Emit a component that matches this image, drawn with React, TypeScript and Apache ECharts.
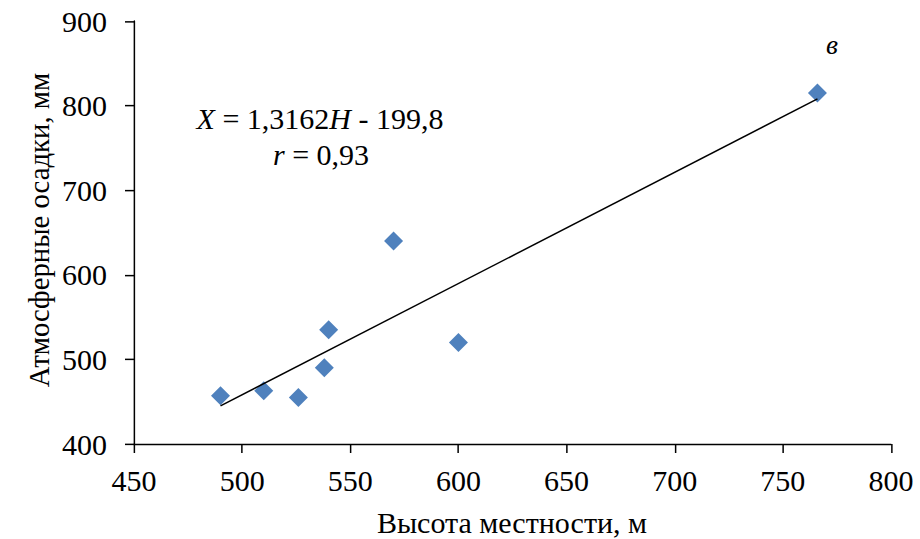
import React, { useEffect, useRef } from "react";
import * as echarts from "echarts";

const heights: number[] = [490, 510, 526, 538, 540, 570, 600, 766];
const precipitation: number[] = [457, 463, 455, 490, 535, 640, 520, 815];
const trendStart: number[] = [490, 445];
const trendEnd: number[] = [766, 808];
const xTicks = { min: 450, max: 800, interval: 50 };
const yTicks = { min: 400, max: 900, interval: 100 };
const xTitle = "Высота местности, м";
const yTitle = "Атмосферные осадки, мм";
const panelLetter = "в";

const FONT = "Liberation Serif";
// The chart is laid out at 1/S size and scaled up by S with CSS,
// so that serif glyphs are kept at the larger on-screen sizes.
const S = 1.25;
const W = 920 / S;
const H = 539 / S;
const u = (v: number) => v / S;

export default function App() {
  const ref = useRef<HTMLDivElement>(null);
  useEffect(() => {
    if (!ref.current) return;
    const chart = echarts.init(ref.current, undefined, { renderer: "svg", width: W, height: H });
    const points = heights.map((h, i) => [h, precipitation[i]]);
    const txt = (size: number, italic = false) => ({
      fontFamily: FONT,
      fontSize: size,
      fontStyle: italic ? "italic" : "normal",
      fill: "#000",
    });
    const axisLine = { show: true, onZero: false, lineStyle: { color: "#000", width: u(1.5) } };
    const axisTick = { show: true, inside: false, length: u(9), lineStyle: { color: "#000", width: u(1.5) } };
    chart.setOption({
      animation: false,
      backgroundColor: "#ffffff",
      textStyle: { fontFamily: FONT },
      grid: { left: u(134), right: u(29), top: u(21), bottom: u(95), containLabel: false },
      xAxis: {
        type: "value",
        min: xTicks.min,
        max: xTicks.max,
        interval: xTicks.interval,
        axisLine,
        axisTick,
        splitLine: { show: false },
        axisLabel: { color: "#000", fontFamily: FONT, fontSize: 24, margin: u(21) },
      },
      yAxis: {
        type: "value",
        min: yTicks.min,
        max: yTicks.max,
        interval: yTicks.interval,
        axisLine,
        axisTick,
        splitLine: { show: false },
        axisLabel: { color: "#000", fontFamily: FONT, fontSize: 24, margin: u(27) },
      },
      series: [
        {
          type: "line",
          data: [trendStart, trendEnd],
          showSymbol: false,
          symbol: "none",
          lineStyle: { color: "#000", width: u(1.5) },
          z: 3,
        },
        {
          type: "scatter",
          data: points,
          symbol: "diamond",
          symbolSize: u(19),
          itemStyle: { color: "#4F81BD", opacity: 1 },
          z: 2,
        },
      ],
      graphic: [
        {
          type: "text",
          x: u(512),
          y: u(522),
          style: {
            text: xTitle,
            ...txt(24),
            align: "center",
            verticalAlign: "middle",
          },
        },
        {
          type: "text",
          x: u(39),
          y: u(230),
          rotation: Math.PI / 2,
          style: {
            text: yTitle,
            ...txt(23),
            align: "center",
            verticalAlign: "middle",
          },
        },
        {
          type: "text",
          x: u(832),
          y: u(44),
          style: {
            text: panelLetter,
            ...txt(22, true),
            align: "center",
            verticalAlign: "middle",
          },
        },
        {
          type: "text",
          x: u(320),
          y: u(118),
          style: {
            text: "{i|X} = 1,3162{i|H} - 199,8",
            ...txt(24),
            align: "center",
            verticalAlign: "middle",
            rich: { i: txt(24, true) },
          },
        },
        {
          type: "text",
          x: u(321),
          y: u(154),
          style: {
            text: "{i|r} = 0,93",
            ...txt(24),
            align: "center",
            verticalAlign: "middle",
            rich: { i: txt(24, true) },
          },
        },
      ],
    });
    return () => chart.dispose();
  }, []);
  return (
    <div
      ref={ref}
      style={{
        width: W,
        height: H,
        position: "absolute",
        left: 0,
        top: 0,
        transform: `scale(${S})`,
        transformOrigin: "0 0",
      }}
    />
  );
}
